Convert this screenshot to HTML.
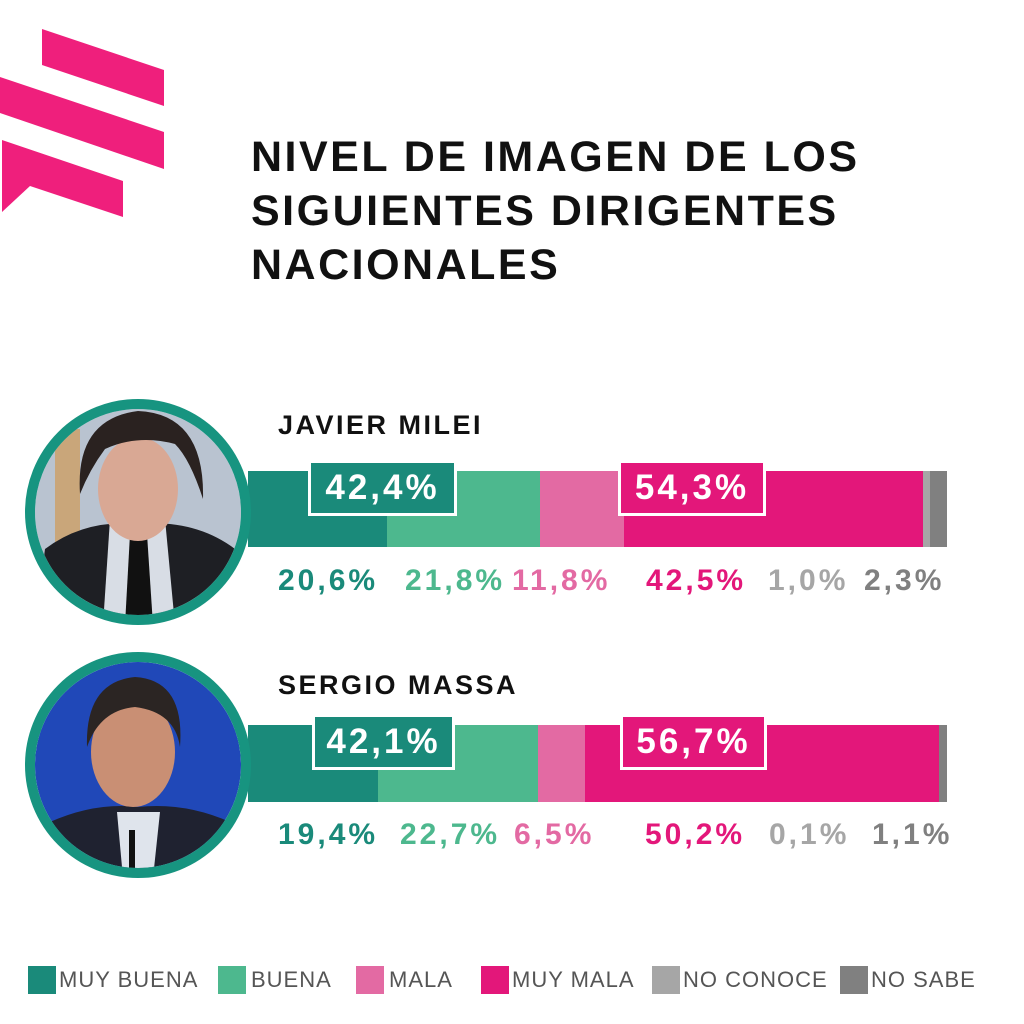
<!DOCTYPE html>
<html><head><meta charset="utf-8"><style>
body{margin:0;background:#fff;width:1024px;height:1024px;position:relative;overflow:hidden;font-family:"Liberation Sans",sans-serif}
.a{position:absolute}
.t{font-weight:bold;font-size:43px;letter-spacing:2.5px;color:#111;left:251px;line-height:54px;top:130px}
.n{font-weight:bold;font-size:27px;letter-spacing:2.5px;color:#111}
.box{position:absolute;border:3px solid #fff;color:#fff;font-weight:bold;font-size:35px;letter-spacing:3px;text-align:center;line-height:50px;box-sizing:border-box}
.p{position:absolute;font-weight:bold;font-size:30px;letter-spacing:3px}
.lg{position:absolute;top:965px;font-size:22px;letter-spacing:1px;color:#555;line-height:30px}
.sw{position:absolute;top:966px;width:28px;height:28px}
</style></head><body>
<svg class="a" style="left:0;top:0" width="180" height="230">
<polygon points="42,29 164,70 164,106 42,65" fill="#ef1f7c"/>
<polygon points="0,77 164,132 164,169 0,113" fill="#ef1f7c"/>
<polygon points="2,140 123,181 123,217 30,186 2,212" fill="#ef1f7c"/>
</svg>
<div class="a t">NIVEL DE IMAGEN DE LOS<br>SIGUIENTES DIRIGENTES<br>NACIONALES</div>

<!-- Milei -->
<div class="a n" style="left:278px;top:410px">JAVIER MILEI</div>
<div class="a" style="left:248px;top:471px;width:139px;height:76px;background:#1a8a7a"></div>
<div class="a" style="left:387px;top:471px;width:153px;height:76px;background:#4db88e"></div>
<div class="a" style="left:540px;top:471px;width:84px;height:76px;background:#e36aa3"></div>
<div class="a" style="left:624px;top:471px;width:299px;height:76px;background:#e3177a"></div>
<div class="a" style="left:923px;top:471px;width:7px;height:76px;background:#a6a6a6"></div>
<div class="a" style="left:930px;top:471px;width:17px;height:76px;background:#808080"></div>
<div class="box" style="left:308px;top:460px;width:149px;height:56px;background:#1a8a7a">42,4%</div>
<div class="box" style="left:618px;top:460px;width:148px;height:56px;background:#e3177a">54,3%</div>
<div class="p" style="left:278px;top:564px;color:#1a8a7a">20,6%</div>
<div class="p" style="left:405px;top:564px;color:#4db88e">21,8%</div>
<div class="p" style="left:512px;top:564px;color:#e36aa3">11,8%</div>
<div class="p" style="left:646px;top:564px;color:#e3177a">42,5%</div>
<div class="p" style="left:768px;top:564px;color:#a6a6a6">1,0%</div>
<div class="p" style="left:864px;top:564px;color:#808080">2,3%</div>
<svg class="a" style="left:25px;top:399px" width="226" height="226">
<defs><clipPath id="c1"><circle cx="113" cy="113" r="103"/></clipPath></defs>
<g clip-path="url(#c1)">
<rect width="226" height="226" fill="#b9c3d0"/>
<rect x="30" y="30" width="25" height="120" fill="#c9a67a"/>
<path d="M10 226 L20 150 Q60 120 113 125 Q170 120 210 150 L220 226Z" fill="#1e1f24"/>
<path d="M85 120 L140 120 L150 226 L78 226Z" fill="#d8dde5"/>
<path d="M105 135 L122 135 L128 226 L100 226Z" fill="#111"/>
<ellipse cx="113" cy="90" rx="40" ry="52" fill="#d9a894"/>
<path d="M55 95 Q50 20 113 12 Q180 15 178 100 Q165 60 150 45 Q113 35 80 50 Q65 70 55 95Z" fill="#2a2220"/>
</g>
<circle cx="113" cy="113" r="108" fill="none" stroke="#179480" stroke-width="10"/>
</svg>

<!-- Massa -->
<div class="a n" style="left:278px;top:670px">SERGIO MASSA</div>
<div class="a" style="left:248px;top:725px;width:130px;height:77px;background:#1a8a7a"></div>
<div class="a" style="left:378px;top:725px;width:160px;height:77px;background:#4db88e"></div>
<div class="a" style="left:538px;top:725px;width:47px;height:77px;background:#e36aa3"></div>
<div class="a" style="left:585px;top:725px;width:354px;height:77px;background:#e3177a"></div>
<div class="a" style="left:939px;top:725px;width:8px;height:77px;background:#808080"></div>
<div class="box" style="left:312px;top:714px;width:143px;height:56px;background:#1a8a7a">42,1%</div>
<div class="box" style="left:620px;top:714px;width:147px;height:56px;background:#e3177a">56,7%</div>
<div class="p" style="left:278px;top:818px;color:#1a8a7a">19,4%</div>
<div class="p" style="left:400px;top:818px;color:#4db88e">22,7%</div>
<div class="p" style="left:514px;top:818px;color:#e36aa3">6,5%</div>
<div class="p" style="left:645px;top:818px;color:#e3177a">50,2%</div>
<div class="p" style="left:769px;top:818px;color:#a6a6a6">0,1%</div>
<div class="p" style="left:872px;top:818px;color:#808080">1,1%</div>
<svg class="a" style="left:25px;top:652px" width="226" height="226">
<defs><clipPath id="c2"><circle cx="113" cy="113" r="103"/></clipPath></defs>
<g clip-path="url(#c2)">
<rect width="226" height="226" fill="#2048b8"/>
<path d="M10 226 L25 170 Q70 150 113 155 Q160 150 205 170 L220 226Z" fill="#1f2230"/>
<path d="M92 160 L135 160 L128 226 L98 226Z" fill="#dfe4ec"/>
<ellipse cx="108" cy="100" rx="42" ry="55" fill="#c98f74"/>
<path d="M62 95 Q60 30 110 25 Q160 28 155 95 Q150 60 110 55 Q75 58 62 95Z" fill="#2b2523"/>
<rect x="104" y="178" width="6" height="48" fill="#111"/>
</g>
<circle cx="113" cy="113" r="108" fill="none" stroke="#179480" stroke-width="10"/>
</svg>

<!-- Legend -->
<div class="sw" style="left:28px;background:#1a8a7a"></div><div class="lg" style="left:59px">MUY BUENA</div>
<div class="sw" style="left:218px;background:#4db88e"></div><div class="lg" style="left:251px">BUENA</div>
<div class="sw" style="left:356px;background:#e36aa3"></div><div class="lg" style="left:389px">MALA</div>
<div class="sw" style="left:481px;background:#e3177a"></div><div class="lg" style="left:512px">MUY MALA</div>
<div class="sw" style="left:652px;background:#a6a6a6"></div><div class="lg" style="left:683px">NO CONOCE</div>
<div class="sw" style="left:840px;background:#808080"></div><div class="lg" style="left:871px">NO SABE</div>
</body></html>
